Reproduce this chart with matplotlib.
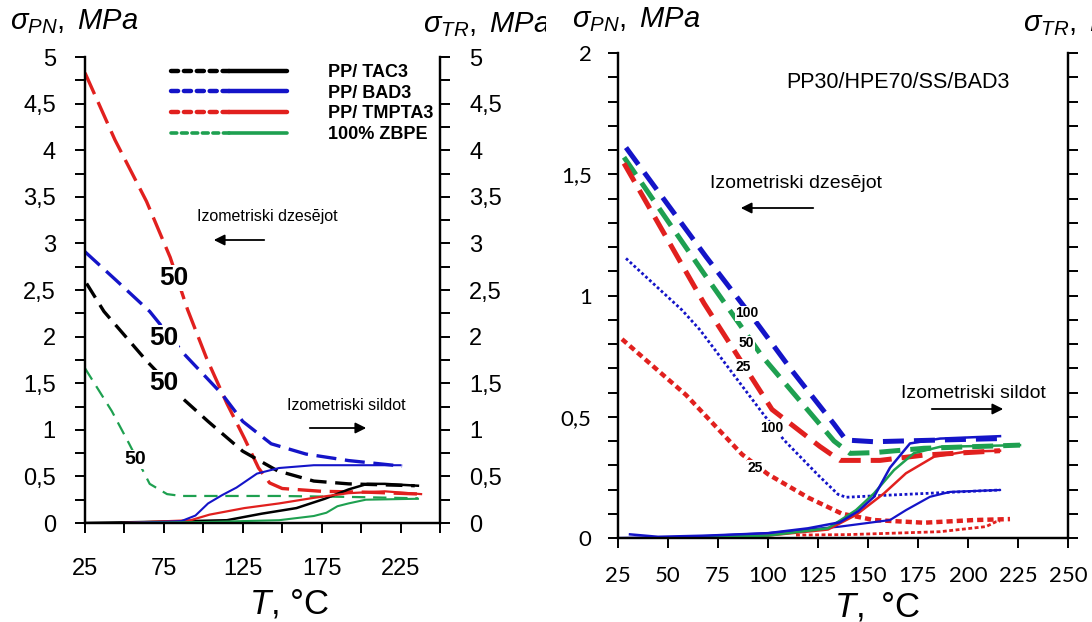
import matplotlib
matplotlib.use("Agg")
import matplotlib.pyplot as plt
from matplotlib.lines import Line2D
from matplotlib.legend_handler import HandlerTuple
from matplotlib.ticker import FuncFormatter, MultipleLocator, FixedLocator
from matplotlib.transforms import Bbox, TransformedBbox

plt.rcParams['font.family'] = ['Liberation Sans', 'DejaVu Sans']
plt.rcParams['mathtext.fontset'] = 'custom'
plt.rcParams['mathtext.it'] = 'Liberation Sans:italic'
plt.rcParams['mathtext.rm'] = 'Liberation Sans'

BLACK = '#000000'
BLUE = '#1414c8'
RED = '#e1201e'
GREEN = '#1ea050'

# ---- left panel: sigma_PN (dashed, cooling)
tac_pn_x = [26, 37, 64, 86, 103, 125, 147, 170, 192, 234]
tac_pn_y = [2.57, 2.27, 1.74, 1.35, 1.09, 0.77, 0.56, 0.45, 0.42, 0.40]
bad_pn_x = [25, 45, 66, 88, 112, 125, 143, 165, 192, 226]
bad_pn_y = [2.91, 2.60, 2.27, 1.81, 1.38, 1.09, 0.85, 0.74, 0.67, 0.61]
tmp_pn_x = [25, 44, 64, 79, 90, 102, 115, 126, 135, 142, 150, 175, 205, 238]
tmp_pn_y = [4.83, 4.11, 3.45, 2.85, 2.29, 1.77, 1.28, 0.91, 0.59, 0.43, 0.37, 0.34, 0.33, 0.31]
zbpe_pn_x = [25, 42, 53, 66, 77, 86, 148, 192, 236]
zbpe_pn_y = [1.66, 1.20, 0.85, 0.42, 0.31, 0.29, 0.29, 0.28, 0.265]

# ---- left panel: sigma_TR (solid, heating)
tac_tr_x = [25, 60, 90, 115, 137, 159, 177, 192, 204, 215, 236]
tac_tr_y = [0.0, 0.01, 0.02, 0.03, 0.10, 0.16, 0.26, 0.36, 0.42, 0.42, 0.40]
bad_tr_x = [49, 70, 86, 95, 103, 112, 121, 134, 148, 170, 225]
bad_tr_y = [0.0, 0.01, 0.02, 0.08, 0.21, 0.30, 0.38, 0.53, 0.59, 0.62, 0.62]
tmp_tr_x = [49, 92, 104, 126, 148, 170, 192, 215, 238]
tmp_tr_y = [0.0, 0.03, 0.09, 0.16, 0.21, 0.27, 0.32, 0.34, 0.31]
zbpe_tr_x = [49, 100, 148, 170, 178, 185, 192, 203, 236]
zbpe_tr_y = [0.0, 0.01, 0.03, 0.075, 0.11, 0.18, 0.21, 0.25, 0.26]

legend_labels = ['PP/ TAC3', 'PP/ BAD3', 'PP/ TMPTA3', '100% ZBPE']

# ---- right panel: PP30/HPE70/SS/BAD3
b100_pn_x = [29, 69, 95, 112, 133, 139, 153, 186, 216]
b100_pn_y = [1.61, 1.16, 0.88, 0.69, 0.47, 0.404, 0.397, 0.404, 0.41]
g50_pn_x = [28, 68, 97, 133, 141, 153, 178, 226]
g50_pn_y = [1.57, 1.09, 0.75, 0.40, 0.349, 0.352, 0.37, 0.383]
r25_pn_x = [28, 68, 102, 126, 136, 156, 178, 216]
r25_pn_y = [1.545, 0.968, 0.53, 0.377, 0.32, 0.32, 0.342, 0.36]
b100d_pn_x = [29, 57, 66, 98, 108, 125, 135, 139, 161, 216]
b100d_pn_y = [1.153, 0.94, 0.858, 0.507, 0.404, 0.26, 0.18, 0.168, 0.177, 0.198]
r25d_pn_x = [27, 59, 87, 100, 120, 137, 153, 178, 203, 221]
r25d_pn_y = [0.82, 0.59, 0.345, 0.263, 0.167, 0.10, 0.074, 0.063, 0.074, 0.078]

b100_tr_x = [31, 45, 70, 100, 120, 136, 145, 153, 161, 171, 186, 216]
b100_tr_y = [0.015, 0.005, 0.01, 0.02, 0.04, 0.065, 0.11, 0.17, 0.29, 0.39, 0.41, 0.42]
g50_tr_x = [50, 100, 130, 144, 153, 163, 173, 186, 226]
g50_tr_y = [0.0, 0.01, 0.04, 0.115, 0.184, 0.28, 0.35, 0.376, 0.383]
r25_tr_x = [50, 100, 130, 144, 158, 169, 183, 199, 216]
r25_tr_y = [0.0, 0.01, 0.035, 0.095, 0.184, 0.267, 0.335, 0.356, 0.36]
b25_tr_x = [25, 60, 100, 136, 161, 169, 181, 191, 216]
b25_tr_y = [0.0, 0.005, 0.02, 0.047, 0.074, 0.115, 0.17, 0.19, 0.198]
r25d_tr_x = [114, 140, 186, 209, 214, 216]
r25d_tr_y = [0.012, 0.014, 0.026, 0.047, 0.067, 0.07]

W, H = 1092, 622
fig = plt.figure(figsize=(W / 100, H / 100), dpi=100)


def fx(px):
    return px / W


def fy(py):
    return 1 - py / H


comma = FuncFormatter(lambda v, p: f'{v:g}'.replace('.', ','))

# ================= left panel =================
ax1 = fig.add_axes([fx(85), fy(523), (440 - 85) / W, (523 - 57) / H])
ax1b = ax1.twinx()
for a in (ax1, ax1b):
    a.set_xlim(25, 250)
    a.set_ylim(0, 5)
    a.spines['top'].set_visible(False)
    for s in a.spines.values():
        s.set_linewidth(1.6)
    a.yaxis.set_major_locator(MultipleLocator(0.5))
    a.yaxis.set_minor_locator(MultipleLocator(0.25))
    a.yaxis.set_major_formatter(comma)
    a.tick_params(axis='y', which='both', direction='out', length=7, width=1.4,
                  labelsize=17, pad=14)
ax1.xaxis.set_major_locator(FixedLocator([25, 75, 125, 175, 225]))
ax1.xaxis.set_minor_locator(FixedLocator([50, 100, 150, 200, 250]))
ax1.tick_params(axis='x', which='both', direction='out', length=7, width=1.4,
                labelsize=17, pad=18)

lw = 2.4
ax1.plot(tmp_pn_x, tmp_pn_y, color=RED, lw=lw, dashes=(7, 2.6))
ax1.plot(bad_pn_x, bad_pn_y, color=BLUE, lw=lw, dashes=(6, 2.6))
ax1.plot(tac_pn_x, tac_pn_y, color=BLACK, lw=lw, dashes=(5, 2.6))
ax1.plot(zbpe_pn_x, zbpe_pn_y, color=GREEN, lw=1.6, dashes=(6, 3.5))

ax1b.plot(tac_tr_x, tac_tr_y, color=BLACK, lw=1.8)
ax1b.plot(tmp_tr_x, tmp_tr_y, color=RED, lw=1.6)
ax1b.plot(bad_tr_x, bad_tr_y, color=BLUE, lw=1.5)
ax1b.plot(zbpe_tr_x, zbpe_tr_y, color=GREEN, lw=1.5)

box = dict(facecolor='white', edgecolor='none', pad=0.5)
ax1b.text(81.5, 2.63, '50', fontsize=19, fontweight='bold', ha='center', va='center', bbox=box)
ax1b.text(75, 1.99, '50', fontsize=19, fontweight='bold', ha='center', va='center', bbox=box)
ax1b.text(75, 1.505, '50', fontsize=19, fontweight='bold', ha='center', va='center', bbox=box)
ax1b.text(56.5, 0.68, '50', fontsize=14, fontweight='bold', ha='center', va='center', bbox=box)

# legend: dotted part then solid part for each series
handles = []
for c, w in [(BLACK, 3.2), (BLUE, 3.2), (RED, 3.2), (GREEN, 2.6)]:
    dot = Line2D([], [], color=c, lw=w, linestyle=(0, (1.6, 1.3)), dash_capstyle='round')
    sol = Line2D([], [], color=c, lw=w, solid_capstyle='round')
    handles.append((dot, sol))
ax1b.legend(handles, legend_labels, handler_map={tuple: HandlerTuple(ndivide=None, pad=0)},
            loc='upper left', bbox_to_anchor=(fx(171), fy(64)), bbox_transform=fig.transFigure,
            frameon=False, borderpad=0, borderaxespad=0, handlelength=6.4, handletextpad=2.3,
            labelspacing=0.2, prop={'weight': 'bold', 'size': 13})

fig.text(fx(197), fy(217), 'Izometriski dzesējot', fontsize=11.5, va='center', ha='left')
fig.text(fx(287), fy(406), 'Izometriski sildot', fontsize=11.5, va='center', ha='left')
arrow = dict(arrowstyle='-|>', color='black', lw=1.3, mutation_scale=16)
fig.add_artist(matplotlib.patches.FancyArrowPatch((fx(267), fy(240)), (fx(211), fy(240)),
                                                   transform=fig.transFigure, **arrow))
fig.add_artist(matplotlib.patches.FancyArrowPatch((fx(307), fy(428)), (fx(369), fy(428)),
                                                   transform=fig.transFigure, **arrow))

fig.text(fx(10), fy(22), r'$\sigma_{PN},\ MPa$', fontsize=21, va='center', ha='left')
t = fig.text(fx(423), fy(25), r'$\sigma_{TR},\ MPa$', fontsize=21, va='center', ha='left')
t.set_clip_box(TransformedBbox(Bbox([[0, 0], [546 / W, 1]]), fig.transFigure))
fig.text(fx(289), fy(604), r'$T$, °C', fontsize=25, va='center', ha='center')

# ================= right panel =================
ax2 = fig.add_axes([fx(618), fy(538), (1068 - 618) / W, (538 - 53) / H])
ax2b = ax2.twinx()
for a in (ax2, ax2b):
    a.set_xlim(25, 250)
    a.set_ylim(0, 2)
    a.spines['top'].set_visible(False)
    for s in a.spines.values():
        s.set_linewidth(1.6)
    a.yaxis.set_major_locator(MultipleLocator(0.5))
    a.yaxis.set_minor_locator(MultipleLocator(0.1))
    a.tick_params(axis='y', which='both', direction='out', length=7, width=1.4,
                  labelsize=16, pad=12)
ax2.yaxis.set_major_formatter(comma)
ax2b.tick_params(axis='y', labelright=False)
ax2.xaxis.set_major_locator(MultipleLocator(25))
ax2.tick_params(axis='x', direction='out', length=7, width=1.4, labelsize=16, pad=13)
for lab in ax2.get_xticklabels() + ax2.get_yticklabels():
    lab.set_fontfamily('Lato')

ax2.plot(b100_pn_x, b100_pn_y, color=BLUE, lw=3.6, dashes=(4.2, 2.0))
ax2.plot(g50_pn_x, g50_pn_y, color=GREEN, lw=3.6, dashes=(4.2, 2.0))
ax2.plot(r25_pn_x, r25_pn_y, color=RED, lw=3.6, dashes=(4.2, 2.0))
ax2.plot(b100d_pn_x, b100d_pn_y, color=BLUE, lw=2.0, linestyle=(0, (1.0, 0.9)))
ax2.plot(r25d_pn_x, r25d_pn_y, color=RED, lw=3.2, linestyle=(0, (1.4, 0.9)))

ax2b.plot(b25_tr_x, b25_tr_y, color=BLUE, lw=1.6)
ax2b.plot(r25_tr_x, r25_tr_y, color=RED, lw=1.8)
ax2b.plot(g50_tr_x, g50_tr_y, color=GREEN, lw=1.8)
ax2b.plot(b100_tr_x, b100_tr_y, color=BLUE, lw=1.8)
ax2b.plot(r25d_tr_x, r25d_tr_y, color=RED, lw=2.0, linestyle=(0, (1.4, 0.9)))

box2 = dict(facecolor='white', edgecolor='none', pad=0.3)
for xx, yy, s in [(89.3, 0.927, '100'), (89.3, 0.803, '50'), (87.7, 0.706, '25'),
                  (101.8, 0.452, '100'), (93.5, 0.29, '25')]:
    ax2b.text(xx, yy, s, fontsize=10, fontweight='bold', ha='center', va='center', bbox=box2)

fig.text(fx(786), fy(82), 'PP30/HPE70/SS/BAD3', fontsize=15.5, va='center', ha='left')
fig.text(fx(710), fy(183), 'Izometriski dzesējot', fontsize=14, va='center', ha='left')
fig.text(fx(901), fy(394), 'Izometriski sildot', fontsize=14, va='center', ha='left')
fig.add_artist(matplotlib.patches.FancyArrowPatch((fx(816), fy(208)), (fx(738), fy(208)),
                                                   transform=fig.transFigure, **arrow))
fig.add_artist(matplotlib.patches.FancyArrowPatch((fx(929), fy(409)), (fx(1006), fy(409)),
                                                   transform=fig.transFigure, **arrow))

fig.text(fx(572), fy(20), r'$\sigma_{PN},\ MPa$', fontsize=21, va='center', ha='left')
fig.text(fx(1023), fy(24), r'$\sigma_{TR},\ MPa$', fontsize=21, va='center', ha='left')
fig.text(fx(877), fy(607), r'$T,$ °C', fontsize=25, va='center', ha='center')

fig.savefig('out.png', dpi=100)
